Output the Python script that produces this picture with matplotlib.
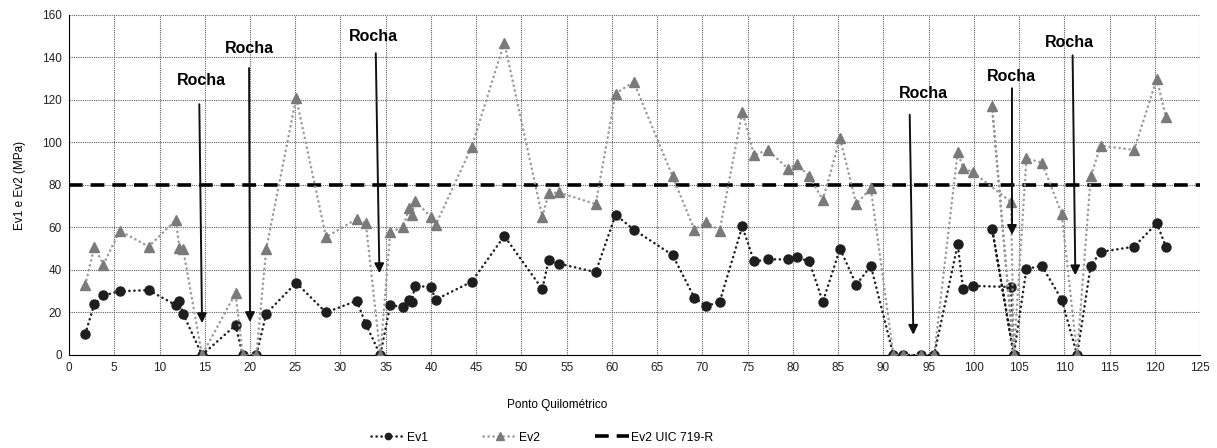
import matplotlib
matplotlib.use("Agg")
import matplotlib.pyplot as plt

plt.rcParams["font.family"] = ["Liberation Sans", "DejaVu Sans"]

# chainage (km) and plate load results, in survey order
pk = [1.8, 2.8, 3.8, 5.6, 8.8, 11.8, 12.2, 12.6, 14.7, 18.4, 19.2, 20.7, 21.8,
      25.1, 28.4, 31.8, 32.8, 34.4, 35.5, 36.9, 37.6, 37.9, 38.2, 40.0, 40.5,
      44.5, 48.1, 52.3, 53.0, 54.1, 58.2, 60.4, 62.4, 66.7, 69.1, 70.4, 71.9,
      74.4, 75.7, 77.2, 79.5, 80.4, 81.8, 83.3, 85.2, 87.0, 88.6, 91.1, 92.2,
      94.2, 95.6, 98.2, 98.8, 99.9, 104.1, 104.4, 102.0, 104.4, 105.8, 107.5,
      109.7, 111.4, 112.9, 114.0, 117.7, 120.2, 121.2]
ev1 = [10, 24, 28, 30, 30.5, 23.5, 25.5, 19.5, 0, 14, 0, 0, 19.5,
       34, 20, 25.5, 14.5, 0, 23.5, 22.5, 26, 25, 32.5, 32, 26,
       34.5, 56, 31, 44.5, 43, 39, 66, 59, 47, 27, 23, 25,
       60.5, 44, 45, 45, 46, 44, 25, 50, 33, 42, 0, 0,
       0, 0, 52, 31, 32.5, 32, 0, 59.5, 0, 40.5, 42,
       26, 0, 42, 48.5, 51, 62, 51]
ev2 = [33, 51, 42.5, 58.5, 51, 63.5, 50.5, 50, 0, 29, 0, 0, 50,
       121, 55.5, 64, 62, 0, 58, 60, 69, 66, 72.5, 65, 61,
       98, 147, 65, 76, 76.5, 71, 123, 128.5, 84, 59, 62.5, 58.5,
       114.5, 94, 96.5, 87.5, 90, 84, 73, 102, 71, 78.5, 0, 0,
       0, 0, 95.5, 88, 86, 72, 0, 117, 0, 92.5, 90.5,
       66.5, 0, 84, 98.5, 96.5, 130, 112]
ev2_limit = 80

# "Rocha" labels: text position, arrow start, arrow tip (data units)
rocha_text = [(14.6, 129), (19.9, 144), (33.6, 150), (94.4, 123), (104.1, 131), (110.6, 147)]
rocha_from = [(14.4, 118), (19.9, 135), (33.9, 142), (92.9, 113), (104.2, 125.5), (110.9, 141)]
rocha_to = [(14.7, 15), (20.0, 15.5), (34.3, 38.5), (93.3, 9.5), (104.2, 56.5), (111.2, 37.5)]

fig = plt.figure(figsize=(12.17, 4.48), dpi=100)
ax = fig.add_axes([0.0567, 0.2076, 0.9295, 0.759])

ax.plot(pk, ev1, color="#1e1e1e", linewidth=1.8, linestyle=(0, (0.1, 1.9)),
        dash_capstyle="round", marker="o", markersize=6.5, label="Ev1", zorder=3)
ax.plot(pk, ev2, color="#9a9a9a", linewidth=1.8, linestyle=(0, (0.1, 1.9)),
        dash_capstyle="round", marker="^", markersize=7.5, markerfacecolor="#7a7a7a",
        markeredgecolor="#7a7a7a", label="Ev2", zorder=4)
ax.axhline(ev2_limit, color="black", linewidth=2.6, linestyle=(0, (3.8, 2.2)),
           label="Ev2 UIC 719-R", zorder=2)

for (tx, ty), (fx, fy), (hx, hy) in zip(rocha_text, rocha_from, rocha_to):
    ax.text(tx, ty, "Rocha", fontsize=11.5, fontweight="bold", ha="center", va="center", zorder=6)
    ax.annotate("", xy=(hx, hy), xytext=(fx, fy),
                arrowprops=dict(arrowstyle="-|>", color="#111111", lw=1.4,
                                mutation_scale=14, shrinkA=0, shrinkB=0), zorder=5)

ax.set_xlim(0, 125)
ax.set_ylim(0, 160)
ax.set_xticks(range(0, 126, 5))
ax.set_yticks(range(0, 161, 20))
ax.grid(True, color="#5e5e5e", linewidth=0.8, linestyle=(0, (1, 1)), zorder=0)
ax.set_axisbelow(True)
ax.spines["top"].set_visible(False)
ax.spines["right"].set_visible(False)
ax.spines["left"].set_color("black")
ax.spines["bottom"].set_color("black")
ax.tick_params(length=0, labelsize=8.5, colors="#222222", pad=5)

ax.set_xlabel("Ponto Quilométrico", fontsize=8.5)
ax.xaxis.set_label_coords(0.432, -0.128)
ax.set_ylabel("Ev1 e Ev2 (MPa)", fontsize=8.5, labelpad=12)

leg = ax.legend(loc="center", bbox_to_anchor=(0.418, -0.243), ncol=3, frameon=False,
                fontsize=8.8, handlelength=2.8, handletextpad=0.15, columnspacing=4.5,
                markerscale=0.7, borderpad=0.2)

fig.savefig("out.png", dpi=100)
